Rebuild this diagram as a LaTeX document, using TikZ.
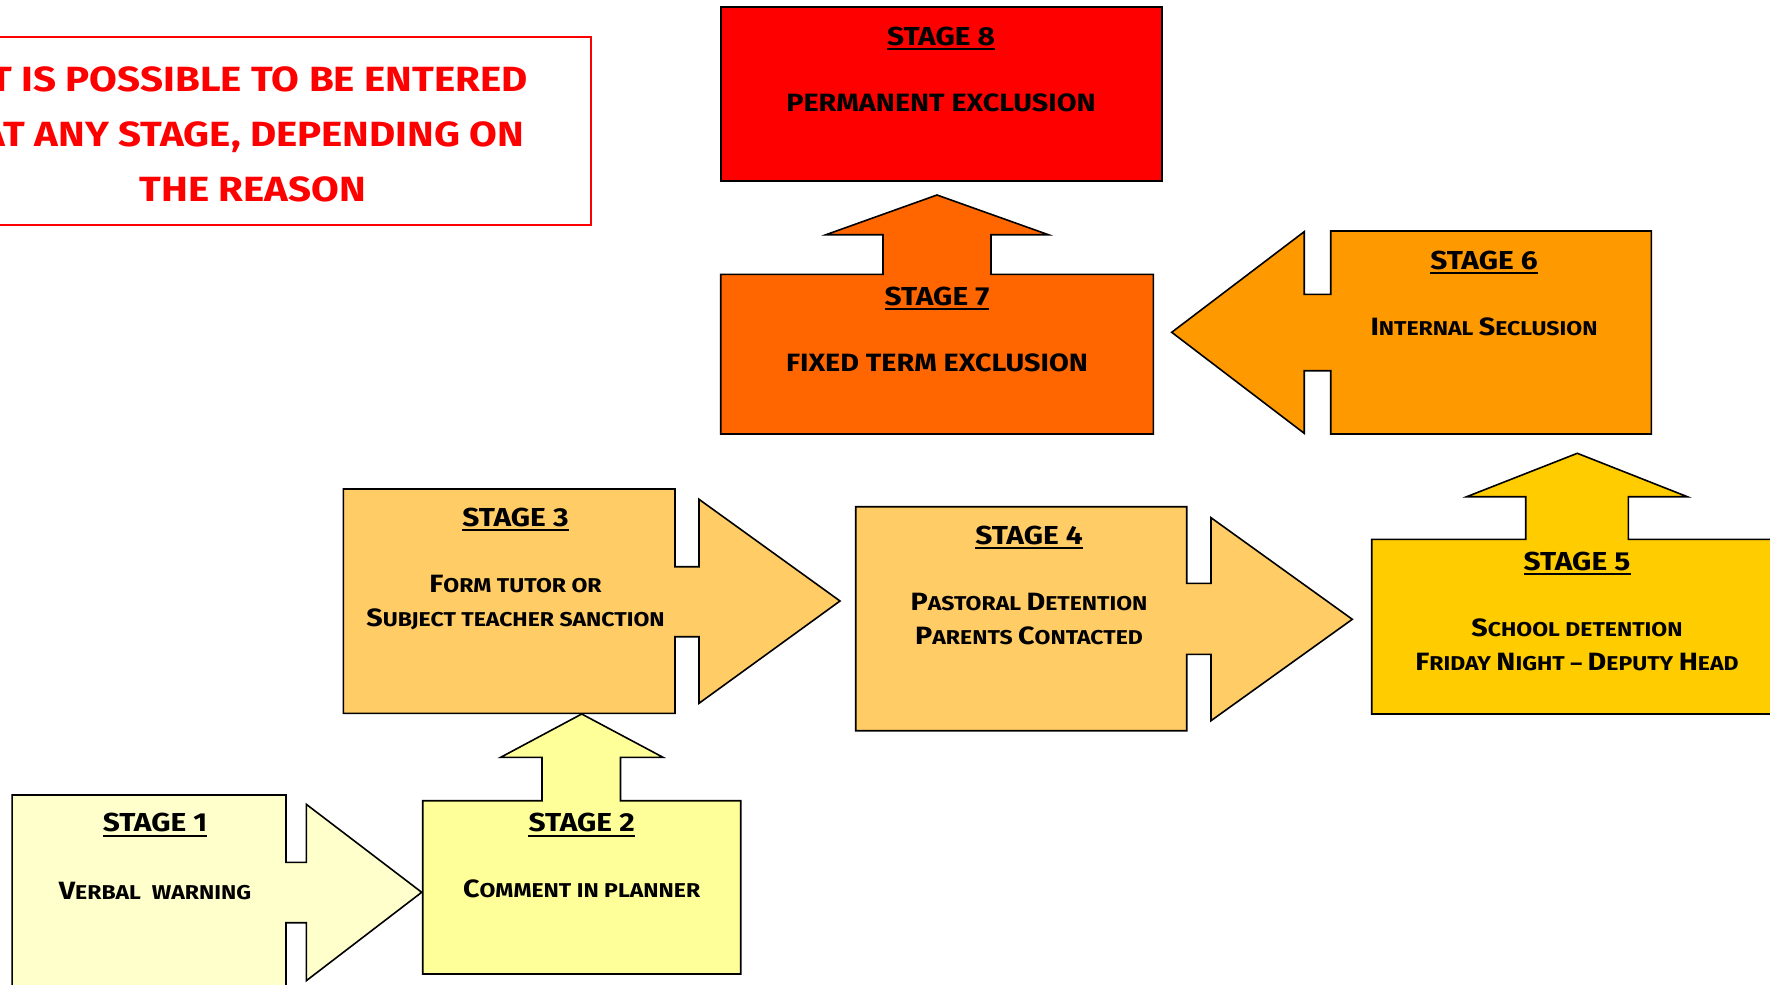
\documentclass[tikz,border=0pt]{standalone}
\usepackage{fontspec}
\setmainfont{Fira Sans}[FakeStretch=1.15]
\definecolor{cone}{HTML}{FFFFCC}
\definecolor{ctwo}{HTML}{FFFF99}
\definecolor{cthree}{HTML}{FFCC66}
\definecolor{cfour}{HTML}{FFCC66}
\definecolor{cfive}{HTML}{FFCC00}
\definecolor{csix}{HTML}{FF9900}
\definecolor{cseven}{HTML}{FF6600}
\definecolor{ceight}{HTML}{FF0000}
\definecolor{notered}{HTML}{FF0000}
\newcommand\Cp[1]{{\fontsize{25}{30}\selectfont #1}}
\tikzset{
  shapebox/.style={draw=black, line width=1.6pt, line join=miter},
  ttl/.style={anchor=base, inner sep=0pt, font=\fontsize{26}{30}\selectfont\bfseries},
  txt/.style={anchor=base, inner sep=0pt, font=\fontsize{20}{24}\selectfont\bfseries},
  bigtxt/.style={anchor=base, inner sep=0pt, font=\fontsize{25}{30}\selectfont\bfseries},
  notetxt/.style={anchor=base, inner sep=0pt, text=notered, font=\fontsize{35}{40}\selectfont\bfseries},
  uline/.style={line width=2pt}
}
\begin{document}
\begin{tikzpicture}[x=1pt,y=-1pt]
\useasboundingbox (0,0) rectangle (1770,985);
\clip (0,0) rectangle (1770,985);
\fill[white] (0,0) rectangle (1770,985);

% note box
\draw[draw=notered, line width=1.6pt, fill=white] (-85,36.7) rectangle (591,225);
\node[notetxt] (n1) at (253,91.7) {IT IS POSSIBLE TO BE ENTERED};
\node[notetxt] (n2) at (253,146.7) {AT ANY STAGE, DEPENDING ON};
\node[notetxt] (n3) at (253,201.7) {THE REASON};

% stage 8
\draw[shapebox, fill=ceight] (720.7,6.7) rectangle (1161.7,181);
% stage 7
\draw[shapebox, fill=cseven] (720.7,274.3) -- (883,274.3) -- (883,234.7) -- (826,234.7) -- (937,195) -- (1048.3,234.7) -- (991,234.7) -- (991,274.3) -- (1153.3,274.3) -- (1153.3,434) -- (720.7,434) -- cycle;
% stage 6
\draw[shapebox, fill=csix] (1330.7,231) -- (1651.4,231) -- (1651.4,434) -- (1330.7,434) -- (1330.7,370.7) -- (1304.2,370.7) -- (1304.2,433.3) -- (1171.7,332.3) -- (1304.2,231.7) -- (1304.2,294.3) -- (1330.7,294.3) -- cycle;
% stage 5
\draw[shapebox, fill=cfive] (1371.7,539.3) -- (1525.7,539.3) -- (1525.7,496.7) -- (1466.7,496.7) -- (1577.3,453.3) -- (1687.3,496.7) -- (1628.3,496.7) -- (1628.3,539.3) -- (1790,539.3) -- (1790,714) -- (1371.7,714) -- cycle;
% stage 4
\draw[shapebox, fill=cfour] (855.7,506.7) -- (1186.7,506.7) -- (1186.7,583.3) -- (1211,583.3) -- (1211,517.7) -- (1352.3,619.3) -- (1211,720.7) -- (1211,654.3) -- (1186.7,654.3) -- (1186.7,730.7) -- (855.7,730.7) -- cycle;
% stage 3
\draw[shapebox, fill=cthree] (343.3,489) -- (675,489) -- (675,566.7) -- (699,566.7) -- (699,499.3) -- (840,601) -- (699,703.3) -- (699,636.7) -- (675,636.7) -- (675,713.3) -- (343.3,713.3) -- cycle;
% stage 1
\draw[shapebox, fill=cone] (12.1,795) -- (286,795) -- (286,862.3) -- (306.3,862.3) -- (306.3,804.3) -- (421.7,892.3) -- (306.3,980.7) -- (306.3,922.7) -- (286,922.7) -- (286,1000) -- (12.1,1000) -- cycle;
% stage 2
\draw[shapebox, fill=ctwo] (422.7,800.7) -- (542,800.7) -- (542,757.3) -- (500.7,757.3) -- (581.7,714) -- (663,757.3) -- (620.5,757.3) -- (620.5,800.7) -- (740.7,800.7) -- (740.7,974) -- (422.7,974) -- cycle;

% texts
\node[ttl] (t8) at (941,45) {STAGE 8};
\node[bigtxt] (b8) at (941,111) {PERMANENT EXCLUSION};
\node[ttl] (t7) at (937,305) {STAGE 7};
\node[bigtxt] (b7) at (937,371.7) {FIXED TERM EXCLUSION};
\node[ttl] (t6) at (1484,269) {STAGE 6};
\node[txt] (b6) at (1484,335) {\Cp{I}NTERNAL \Cp{S}ECLUSION};
\node[ttl] (t5) at (1577,570) {STAGE 5};
\node[txt] (b5a) at (1577,636.7) {\Cp{S}CHOOL DETENTION};
\node[txt] (b5b) at (1577,670) {\Cp{F}RIDAY \Cp{N}IGHT – \Cp{D}EPUTY \Cp{H}EAD};
\node[ttl] (t4) at (1029,544) {STAGE 4};
\node[txt] (b4a) at (1029,610.7) {\Cp{P}ASTORAL \Cp{D}ETENTION};
\node[txt] (b4b) at (1029,644) {\Cp{P}ARENTS \Cp{C}ONTACTED};
\node[ttl] (t3) at (515.5,526) {STAGE 3};
\node[txt] (b3a) at (515.5,592.7) {\Cp{F}ORM TUTOR OR};
\node[txt] (b3b) at (515.5,626.7) {\Cp{S}UBJECT TEACHER SANCTION};
\node[ttl] (t2) at (581.7,831.7) {STAGE 2};
\node[txt] (b2) at (581.7,897.3) {\Cp{C}OMMENT IN PLANNER};
\node[ttl] (t1) at (155,831.7) {STAGE 1};
\node[txt] (b1) at (155,899) {\Cp{V}ERBAL\ \ WARNING};

\foreach \t in {t1,t2,t3,t4,t5,t6,t7,t8}
  \draw[uline] ([yshift=-4pt]\t.base west) -- ([yshift=-4pt]\t.base east);
\end{tikzpicture}
\end{document}
